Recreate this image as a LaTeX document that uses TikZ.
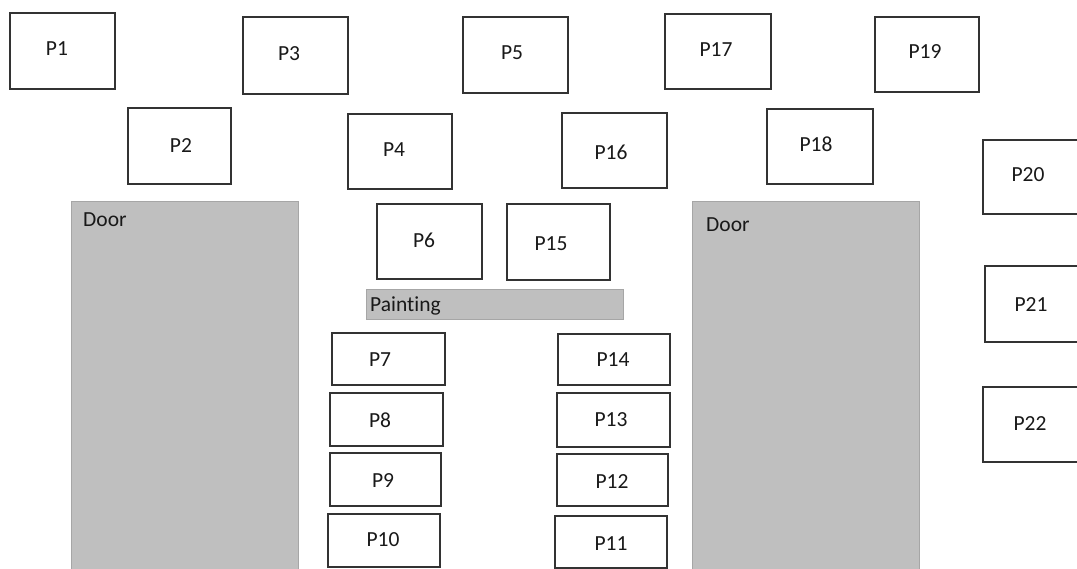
\documentclass[tikz,border=0pt]{standalone}
\usepackage{fontspec}
\setmainfont{Carlito}[Ligatures=NoCommon]
\usetikzlibrary{fit}
\tikzset{
  pbox/.style={draw=black!80, line width=1.4pt, fill=white, inner sep=0pt},
  grayarea/.style={draw=black!35, line width=1pt, fill=black!25, inner sep=0pt},
  lbl/.style={font=\fontsize{21.5}{24}\selectfont, text=black!90, inner sep=0pt},
  lbll/.style={lbl, anchor=west}
}
\newcommand\PB[7]{%
  \node[pbox, fit={(#2,#3) (#4,#5)}] (#1) {};
  \node[lbl] (#1t) at (#6,#7) {#1};
}
\begin{document}
\begin{tikzpicture}[x=1pt,y=-1pt]
\useasboundingbox (0,0) rectangle (1077,569);
\clip (0,0) rectangle (1077,569);
% doors and painting
\node[grayarea, fit={(71,202) (298,575)}] (doorL) {};
\node[lbll] (doorLt) at (83,220) {Door};
\node[grayarea, fit={(692,202) (919,575)}] (doorR) {};
\node[lbll] (doorRt) at (706,225) {Door};
\node[grayarea, fit={(366,290) (623,320)}] (painting) {};
\node[lbll] (paintingt) at (370,306) {Painting};
% top rows
\PB{P1}{10}{13}{115}{89}{57}{49}
\PB{P3}{243}{17}{348}{94}{289}{54}
\PB{P5}{463}{17}{568}{93}{512}{53}
\PB{P17}{665}{14}{771}{89}{716}{50}
\PB{P19}{875}{17}{979}{92}{925}{52}
\PB{P2}{128}{108}{231}{184}{181}{146}
\PB{P4}{348}{114}{452}{189}{394}{150}
\PB{P16}{562}{113}{667}{188}{611}{152}
\PB{P18}{767}{109}{873}{184}{816}{144}
% right column
\PB{P20}{983}{140}{1095}{214}{1028}{175}
\PB{P21}{985}{266}{1095}{342}{1031}{305}
\PB{P22}{983}{387}{1095}{462}{1030}{424}
% center
\PB{P6}{377}{204}{482}{279}{424}{240}
\PB{P15}{507}{204}{610}{280}{551}{244}
\PB{P7}{332}{333}{445}{385}{380}{360}
\PB{P8}{330}{393}{443}{446}{380}{420}
\PB{P9}{330}{453}{441}{506}{383}{481}
\PB{P10}{328}{514}{440}{567}{383}{540}
\PB{P14}{558}{334}{670}{385}{613}{360}
\PB{P13}{557}{393}{670}{447}{611}{420}
\PB{P12}{557}{454}{668}{506}{612}{482}
\PB{P11}{555}{516}{667}{568}{611}{544}
\end{tikzpicture}
\end{document}
